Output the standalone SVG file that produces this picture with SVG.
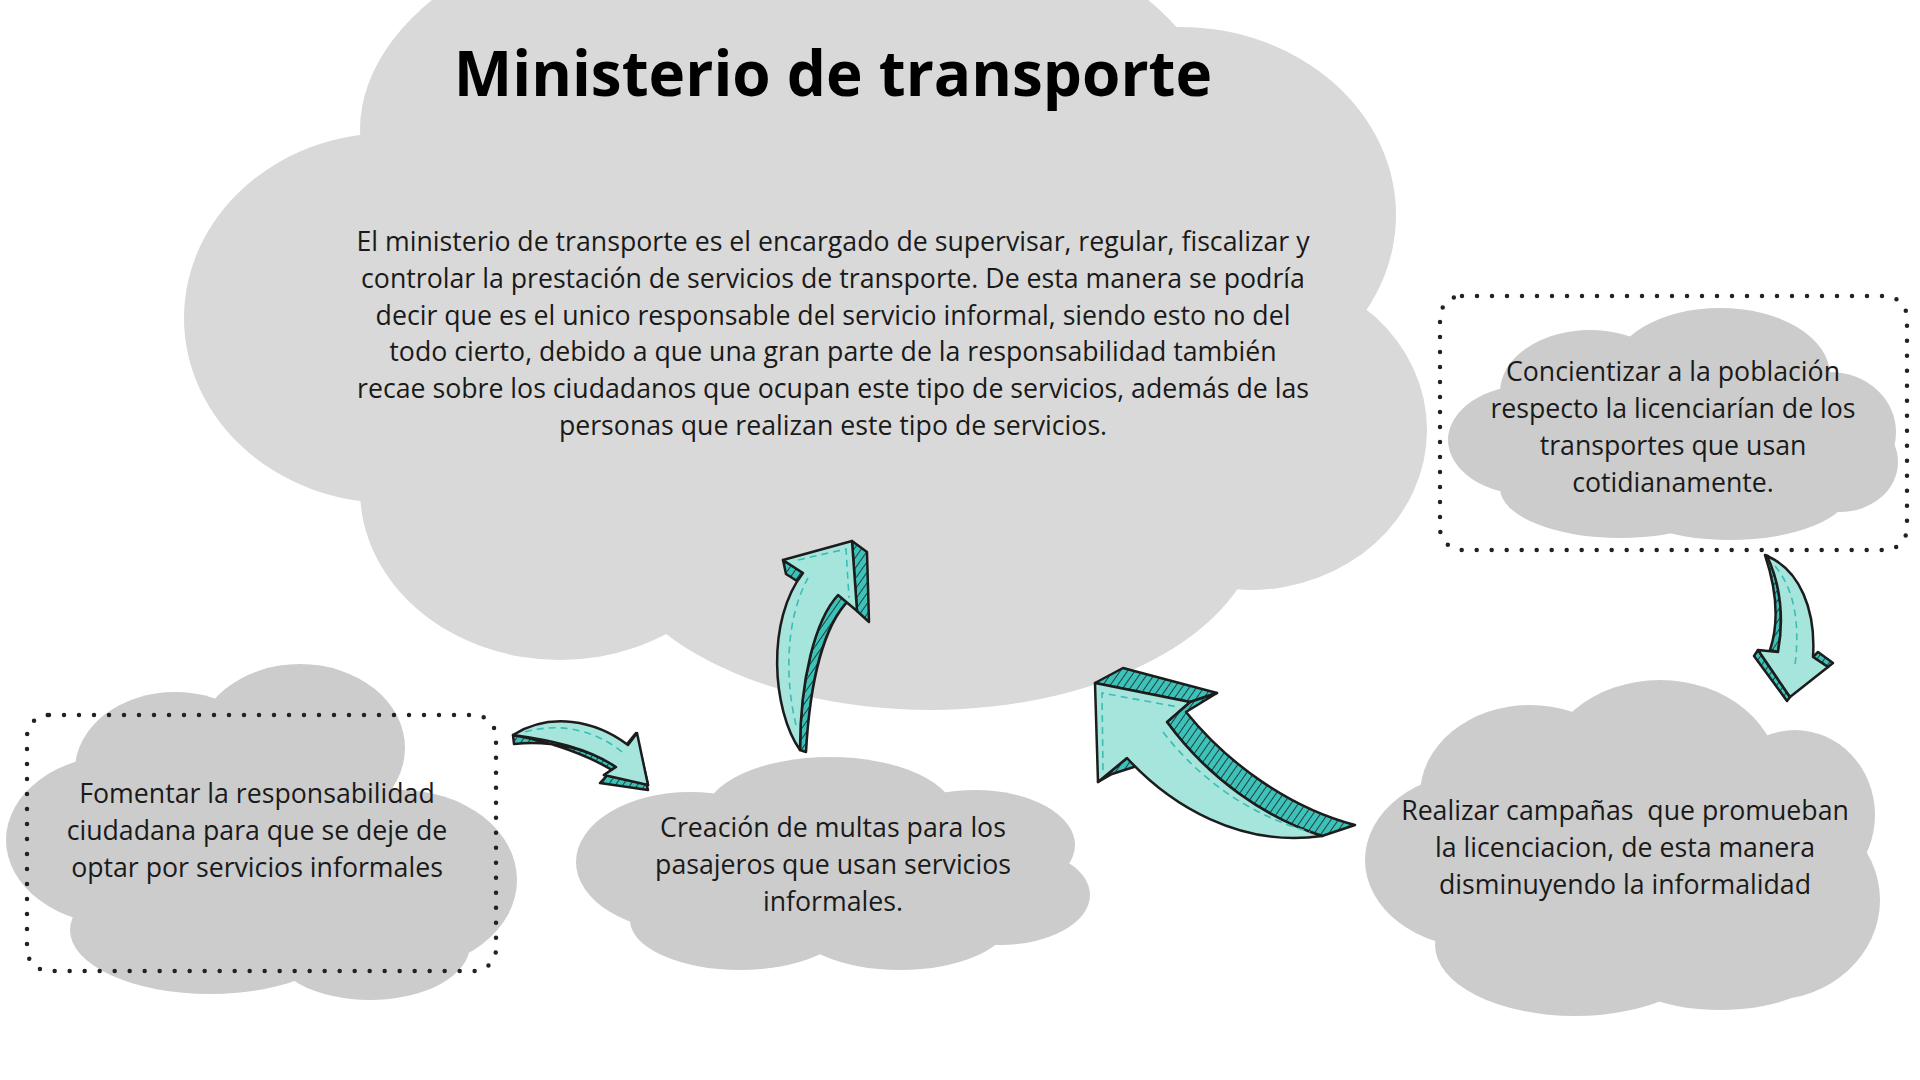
<svg xmlns="http://www.w3.org/2000/svg" width="1920" height="1080" viewBox="0 0 1920 1080">
<defs>
<style>
.main{fill:#d9d9d9}
.cl{fill:#cccccc}
.t{font-family:"Open Sans","Noto Sans","Liberation Sans",sans-serif;font-size:26.7px;fill:#1a1a1a;text-anchor:middle;white-space:pre}
.title{font-family:"Open Sans","Noto Sans","Liberation Sans",sans-serif;font-size:62px;font-weight:700;fill:#000;text-anchor:middle}
.dot{fill:none;stroke:#222;stroke-width:4.5;stroke-dasharray:0 15;stroke-linecap:round}
.face{fill:#a6e5db;stroke:#1c1c1c;stroke-width:2.5;stroke-linejoin:round}
.side{fill:url(#hatch);stroke:#1c1c1c;stroke-width:2.5;stroke-linejoin:round}
.dash{fill:none;stroke:#3bbdb5;stroke-width:1.6;stroke-dasharray:7 5}
</style>
<pattern id="hatch" patternUnits="userSpaceOnUse" width="6" height="6" patternTransform="rotate(35)">
<rect width="6" height="6" fill="#3cc2b9"/>
<line x1="0" y1="0" x2="0" y2="6" stroke="#1c1c1c" stroke-width="1.6"/>
</pattern>
</defs>
<rect width="1920" height="1080" fill="#ffffff"/>

<g id="node-ministerio">
<g class="main">
<ellipse cx="790" cy="130" rx="430" ry="235"/>
<ellipse cx="390" cy="318" rx="206" ry="185"/>
<ellipse cx="1180" cy="215" rx="216" ry="188"/>
<ellipse cx="1250" cy="430" rx="177" ry="160"/>
<ellipse cx="930" cy="520" rx="330" ry="190"/>
<ellipse cx="560" cy="490" rx="200" ry="170"/>
<rect x="420" y="150" width="850" height="340"/>
</g>
<text class="title" x="833" y="96">Ministerio de transporte</text>
<text class="t" x="833" y="251">El ministerio de transporte es el encargado de supervisar, regular, fiscalizar y</text>
<text class="t" x="833" y="288">controlar la prestación de servicios de transporte. De esta manera se podría</text>
<text class="t" x="833" y="325">decir que es el unico responsable del servicio informal, siendo esto no del</text>
<text class="t" x="833" y="361">todo cierto, debido a que una gran parte de la responsabilidad también</text>
<text class="t" x="833" y="398">recae sobre los ciudadanos que ocupan este tipo de servicios, además de las</text>
<text class="t" x="833" y="435">personas que realizan este tipo de servicios.</text>
</g>

<g id="node-concientizar">
<rect class="dot" x="1440" y="296" width="467" height="254" rx="22"/>
<g class="cl">
<ellipse cx="1720" cy="375" rx="110" ry="67"/>
<ellipse cx="1590" cy="392" rx="90" ry="62"/>
<ellipse cx="1530" cy="440" rx="82" ry="55"/>
<ellipse cx="1830" cy="432" rx="66" ry="60"/>
<ellipse cx="1840" cy="462" rx="58" ry="50"/>
<ellipse cx="1620" cy="488" rx="120" ry="50"/>
<ellipse cx="1730" cy="490" rx="120" ry="50"/>
<rect x="1540" y="385" width="300" height="100"/>
</g>
<text class="t" x="1673" y="381">Concientizar a la población</text>
<text class="t" x="1673" y="418">respecto la licenciarían de los</text>
<text class="t" x="1673" y="455">transportes que usan</text>
<text class="t" x="1673" y="492">cotidianamente.</text>
</g>

<g id="node-fomentar">
<g class="cl">
<ellipse cx="300" cy="748" rx="105" ry="84"/>
<ellipse cx="175" cy="770" rx="100" ry="78"/>
<ellipse cx="120" cy="840" rx="114" ry="85"/>
<ellipse cx="400" cy="880" rx="117" ry="90"/>
<ellipse cx="210" cy="930" rx="140" ry="64"/>
<ellipse cx="370" cy="945" rx="100" ry="55"/>
<rect x="110" y="790" width="300" height="150"/>
</g>
<rect class="dot" x="27" y="715" width="469" height="256" rx="22"/>
<text class="t" x="257" y="803">Fomentar la responsabilidad</text>
<text class="t" x="257" y="840">ciudadana para que se deje de</text>
<text class="t" x="257" y="877">optar por servicios informales</text>
</g>

<g id="node-multas">
<g class="cl">
<ellipse cx="830" cy="815" rx="125" ry="58"/>
<ellipse cx="690" cy="862" rx="114" ry="70"/>
<ellipse cx="975" cy="845" rx="100" ry="55"/>
<ellipse cx="1000" cy="895" rx="90" ry="50"/>
<ellipse cx="740" cy="920" rx="110" ry="50"/>
<ellipse cx="900" cy="920" rx="110" ry="50"/>
<rect x="690" y="830" width="310" height="90"/>
</g>
<text class="t" x="833" y="837">Creación de multas para los</text>
<text class="t" x="833" y="874">pasajeros que usan servicios</text>
<text class="t" x="833" y="911">informales.</text>
</g>

<g id="node-campanas">
<g class="cl">
<ellipse cx="1660" cy="780" rx="120" ry="100"/>
<ellipse cx="1530" cy="795" rx="110" ry="90"/>
<ellipse cx="1795" cy="815" rx="80" ry="85"/>
<ellipse cx="1480" cy="860" rx="115" ry="88"/>
<ellipse cx="1770" cy="900" rx="110" ry="100"/>
<ellipse cx="1575" cy="945" rx="140" ry="71"/>
<ellipse cx="1720" cy="960" rx="110" ry="50"/>
<rect x="1480" y="800" width="300" height="150"/>
</g>
<text class="t" x="1625" y="820">Realizar campañas  que promueban</text>
<text class="t" x="1625" y="857">la licenciacion, de esta manera</text>
<text class="t" x="1625" y="894">disminuyendo la informalidad</text>
</g>

<g id="connectors">
<g id="arrow-fomentar-multas">
<path class="side" d="M513,735 C550,742 585,754 612,770 L600,783 L648,790 L646,782 L604,775 L616,767 C588,748 550,740 514,744 Z"/>
<path class="side" d="M627,744 L636,733 L648,785 L638,742 Z"/>
<path class="face" d="M513,735 C550,712 595,720 628,745 L637,733 L648,785 L604,775 L616,767 C588,748 550,740 513,735 Z"/>
<path class="dash" d="M525,732 C560,722 595,730 622,752"/>
</g>
<g id="arrow-multas-ministerio">
<path class="side" d="M852,541 L867,552 L869,622 L857,611 Z"/>
<path class="side" d="M838,595 L849,600 C824,625 810,680 806,752 L800,750 C800,680 815,620 838,595 Z"/>
<path class="side" d="M783,560 L786,574 L797,581 L803,573 Z"/>
<path class="face" d="M800,750 C772,710 766,620 803,573 L783,560 L852,541 L857,611 L838,595 C815,620 800,680 800,750 Z"/>
<path class="dash" d="M796,725 C785,680 785,620 808,578 M798,560 L846,549 L849,598"/>
</g>
<g id="arrow-campanas-ministerio">
<path class="side" d="M1095,683 L1123,668 L1217,693 L1190,702 Z"/>
<path class="side" d="M1190,702 L1217,693 L1186,712 C1228,764 1290,808 1355,825 L1322,836 C1265,818 1208,778 1167,722 Z"/>
<path class="side" d="M1098,782 L1127,758 L1137,766 L1112,774 Z"/>
<path class="face" d="M1095,683 L1190,702 L1167,722 C1208,778 1265,818 1322,836 C1240,848 1170,805 1127,758 L1098,782 Z"/>
<path class="dash" d="M1103,770 L1102,693 L1178,707 M1163,732 C1200,780 1250,815 1310,832"/>
</g>
<g id="arrow-concientizar-campanas">
<path class="side" d="M1765,555 C1775,585 1780,620 1770,650 L1778,652 C1784,620 1781,585 1768,556 Z"/>
<path class="side" d="M1758,650 L1754,656 L1787,701 L1790,697 Z"/>
<path class="side" d="M1813,657 L1818,652 L1833,663 L1828,667 Z"/>
<path class="face" d="M1767,556 C1800,570 1816,610 1813,657 L1828,667 L1790,697 L1758,650 L1778,652 C1784,620 1781,585 1767,556 Z"/>
<path class="dash" d="M1775,566 C1795,590 1800,625 1795,665"/>
</g>
</g>
</svg>
